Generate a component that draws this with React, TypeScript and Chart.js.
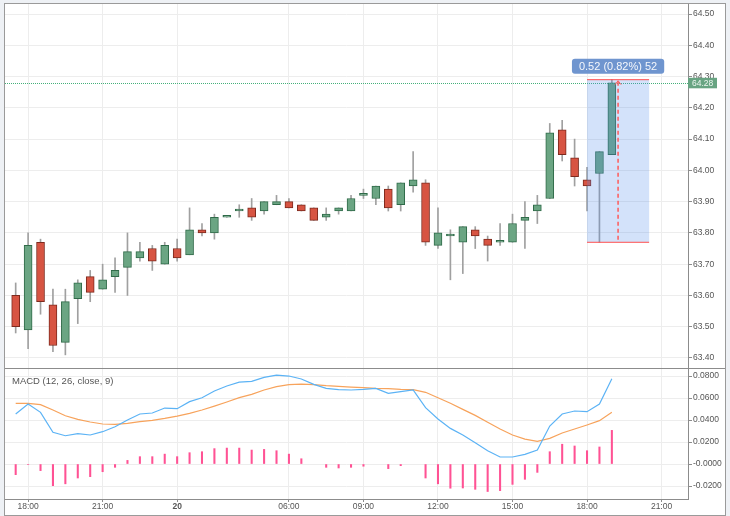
import { useEffect, useRef } from 'react';
import Chart from 'chart.js/auto';

// 30 minute candles, index 0 = 17:30
const opens = [63.60, 63.49, 63.77, 63.57, 63.45, 63.59, 63.66, 63.62, 63.66, 63.69, 63.72, 63.75, 63.70, 63.75, 63.73, 63.81, 63.80, 63.85, 63.87, 63.88, 63.87, 63.89, 63.90, 63.89, 63.88, 63.85, 63.87, 63.87, 63.92, 63.91, 63.94, 63.89, 63.95, 63.96, 63.76, 63.79, 63.77, 63.81, 63.78, 63.77, 63.77, 63.84, 63.87, 63.91, 64.13, 64.04, 63.97, 63.99, 64.05];
const highs = [63.64, 63.80, 63.78, 63.62, 63.62, 63.65, 63.68, 63.70, 63.72, 63.80, 63.77, 63.76, 63.77, 63.78, 63.88, 63.83, 63.86, 63.85, 63.89, 63.91, 63.90, 63.92, 63.91, 63.89, 63.88, 63.88, 63.88, 63.92, 63.94, 63.95, 63.95, 63.96, 64.06, 63.97, 63.88, 63.81, 63.82, 63.82, 63.79, 63.83, 63.86, 63.90, 63.92, 64.15, 64.16, 64.10, 64.01, 64.06, 64.29];
const lows = [63.48, 63.43, 63.54, 63.42, 63.41, 63.51, 63.58, 63.62, 63.61, 63.60, 63.71, 63.68, 63.70, 63.71, 63.73, 63.79, 63.78, 63.85, 63.85, 63.84, 63.86, 63.89, 63.88, 63.87, 63.84, 63.84, 63.86, 63.87, 63.91, 63.89, 63.87, 63.87, 63.93, 63.76, 63.75, 63.65, 63.67, 63.75, 63.71, 63.76, 63.77, 63.75, 63.83, 63.91, 64.03, 63.95, 63.87, 63.77, 64.05];
const closes = [63.50, 63.76, 63.58, 63.44, 63.58, 63.64, 63.61, 63.65, 63.68, 63.74, 63.74, 63.71, 63.76, 63.72, 63.81, 63.80, 63.85, 63.85, 63.87, 63.85, 63.90, 63.90, 63.88, 63.87, 63.84, 63.86, 63.88, 63.91, 63.92, 63.95, 63.88, 63.96, 63.97, 63.77, 63.80, 63.79, 63.82, 63.79, 63.76, 63.77, 63.83, 63.85, 63.89, 64.12, 64.05, 63.98, 63.95, 64.06, 64.28];

const macdLine = [0.0455, 0.0545, 0.0470, 0.0288, 0.0257, 0.0276, 0.0264, 0.0294, 0.0339, 0.0400, 0.0455, 0.0464, 0.0509, 0.0503, 0.0567, 0.0603, 0.0664, 0.0709, 0.0745, 0.0752, 0.0788, 0.0809, 0.0800, 0.0773, 0.0724, 0.0688, 0.0676, 0.0673, 0.0679, 0.0688, 0.0642, 0.0658, 0.0673, 0.0512, 0.0409, 0.0324, 0.0264, 0.0194, 0.0121, 0.0064, 0.0064, 0.0088, 0.0127, 0.0345, 0.0455, 0.0482, 0.0476, 0.0545, 0.0776];
const signalLine = [0.0552, 0.0552, 0.0540, 0.0491, 0.0439, 0.0406, 0.0382, 0.0364, 0.0361, 0.0370, 0.0385, 0.0397, 0.0415, 0.0436, 0.0461, 0.0491, 0.0527, 0.0564, 0.0603, 0.0633, 0.0673, 0.0703, 0.0721, 0.0727, 0.0721, 0.0712, 0.0706, 0.0700, 0.0694, 0.0688, 0.0685, 0.0679, 0.0676, 0.0652, 0.0603, 0.0552, 0.0497, 0.0442, 0.0379, 0.0318, 0.0264, 0.0227, 0.0206, 0.0233, 0.0282, 0.0318, 0.0355, 0.0394, 0.0470];
const histogram = [-0.0097, -0.0005, -0.0060, -0.0197, -0.0180, -0.0127, -0.0115, -0.0070, -0.0030, 0.0033, 0.0067, 0.0067, 0.0090, 0.0067, 0.0103, 0.0112, 0.0140, 0.0145, 0.0145, 0.0127, 0.0133, 0.0121, 0.0090, 0.0048, 0, -0.0030, -0.0036, -0.0030, -0.0020, 0, -0.0042, -0.0015, 0, -0.0127, -0.0180, -0.0220, -0.0218, -0.0230, -0.0250, -0.0242, -0.0185, -0.0139, -0.0076, 0.0112, 0.0180, 0.0164, 0.0121, 0.0155, 0.0306];

const tickIdx = [1, 7, 13, 22, 28, 34, 40, 46, 52];
const tickText = ['18:00', '21:00', '20', '06:00', '09:00', '12:00', '15:00', '18:00', '21:00'];
const priceTicks = [63.4, 63.5, 63.6, 63.7, 63.8, 63.9, 64.0, 64.1, 64.2, 64.3, 64.4, 64.5];
const macdTicks = [-0.02, 0, 0.02, 0.04, 0.06, 0.08];

// price range measurement tool
const measureStart = 46;
const measureEnd = 51;
const measureMid = 48.5;
const measureLow = 63.77;
const measureHigh = 64.29;
const measureLabel = '0.52 (0.82%) 52';

const X_MIN = -0.86;
const X_MAX = 54.13;
const FONT = '"Liberation Sans", Arial, sans-serif';
const GRID = '#ededed';
const AXIS = '#8c8c8c';

const xScale = (labels: boolean) => ({
  type: 'linear',
  min: X_MIN,
  max: X_MAX,
  bounds: 'data',
  offset: false,
  afterBuildTicks: (s: any) => {
    s.ticks = tickIdx.map((v) => ({ value: v }));
  },
  grid: { color: GRID, offset: false, drawTicks: labels, tickLength: 3, tickColor: AXIS },
  border: { display: labels, color: AXIS },
  ticks: {
    display: labels,
    autoSkip: false,
    maxRotation: 0,
    padding: 0,
    color: '#555',
    font: (ctx: any) => ({ size: 8.5, family: FONT, weight: ctx.tick && ctx.tick.value === 13 ? 'bold' : 'normal' }),
    callback: (_v: any, i: number) => tickText[i],
  },
  afterFit: (s: any) => {
    s.height = labels ? 16 : 0;
    s.paddingLeft = 0;
    s.paddingRight = 0;
  },
});

const yScale = (min: number, max: number, values: number[], fmt: (v: number) => string) => ({
  type: 'linear',
  position: 'right',
  min,
  max,
  bounds: 'data',
  afterBuildTicks: (s: any) => {
    s.ticks = values.map((v) => ({ value: v }));
  },
  grid: { color: GRID, tickLength: 4, tickColor: AXIS },
  border: { color: AXIS },
  ticks: {
    autoSkip: false,
    padding: 1,
    color: '#555',
    font: { size: 8.5, family: FONT },
    callback: (v: any) => fmt(Number(v)),
  },
  afterFit: (s: any) => {
    s.width = 37;
    s.paddingTop = 0;
    s.paddingBottom = 0;
  },
});

const mainOverlay = {
  id: 'mainOverlay',
  afterDatasetsDraw(chart: any) {
    const { ctx, chartArea, scales: { x, y } } = chart;
    const last = closes[closes.length - 1];
    const py = Math.round(y.getPixelForValue(last)) + 0.5;
    ctx.save();
    ctx.strokeStyle = '#45b07a';
    ctx.lineWidth = 1;
    ctx.setLineDash([1, 1]);
    ctx.beginPath();
    ctx.moveTo(chartArea.left, py);
    ctx.lineTo(chartArea.right, py);
    ctx.stroke();

    const x0 = x.getPixelForValue(measureStart);
    const x1 = x.getPixelForValue(measureEnd);
    const yt = y.getPixelForValue(measureHigh);
    const yb = y.getPixelForValue(measureLow);
    ctx.fillStyle = 'rgba(80, 140, 235, 0.25)';
    ctx.fillRect(x0, yt, x1 - x0, yb - yt);
    ctx.setLineDash([]);
    ctx.strokeStyle = '#ff4f4f';
    ctx.beginPath();
    ctx.moveTo(x0, yt);
    ctx.lineTo(x1, yt);
    ctx.moveTo(x0, yb);
    ctx.lineTo(x1, yb);
    ctx.stroke();

    const xm = x.getPixelForValue(measureMid);
    ctx.lineWidth = 1.5;
    ctx.strokeStyle = '#ff5a5a';
    ctx.setLineDash([4, 3]);
    ctx.beginPath();
    ctx.moveTo(xm, yt + 2);
    ctx.lineTo(xm, yb);
    ctx.stroke();
    ctx.setLineDash([]);
    ctx.lineWidth = 1;
    ctx.beginPath();
    ctx.moveTo(xm - 3, yt + 5);
    ctx.lineTo(xm, yt + 1);
    ctx.lineTo(xm + 3, yt + 5);
    ctx.stroke();

    ctx.font = `11px ${FONT}`;
    const w = ctx.measureText(measureLabel).width + 14;
    const bx = xm - w / 2;
    const by = yt - 21;
    ctx.fillStyle = '#6f95cf';
    ctx.beginPath();
    ctx.roundRect(bx, by, w, 15, 3);
    ctx.fill();
    ctx.fillStyle = '#f4f7fc';
    ctx.textAlign = 'center';
    ctx.textBaseline = 'middle';
    ctx.fillText(measureLabel, xm, by + 8);
    ctx.restore();
  },
  afterDraw(chart: any) {
    const { ctx, chartArea, scales: { y } } = chart;
    const last = closes[closes.length - 1];
    const py = y.getPixelForValue(last);
    ctx.save();
    ctx.fillStyle = '#68a482';
    ctx.fillRect(chartArea.right, py - 5, 29, 10.5);
    ctx.fillStyle = '#eef7f1';
    ctx.font = `8.5px ${FONT}`;
    ctx.textBaseline = 'middle';
    ctx.fillText(last.toFixed(2), chartArea.right + 4, py + 0.5);
    ctx.restore();
  },
};

const macdOverlay = {
  id: 'macdOverlay',
  afterDraw(chart: any) {
    const { ctx } = chart;
    ctx.save();
    ctx.strokeStyle = AXIS;
    ctx.lineWidth = 1;
    ctx.beginPath();
    ctx.moveTo(0, 0.5);
    ctx.lineTo(chart.width, 0.5);
    ctx.stroke();
    ctx.fillStyle = '#555';
    ctx.font = `9.5px ${FONT}`;
    ctx.textBaseline = 'middle';
    ctx.fillText('MACD (12, 26, close, 9)', 7, 13);
    ctx.restore();
  },
};

export default function App() {
  const mainRef = useRef<HTMLCanvasElement | null>(null);
  const macdRef = useRef<HTMLCanvasElement | null>(null);

  useEffect(() => {
    if (mainRef.current === null || macdRef.current === null) return () => {};
    document.body.style.margin = '0';

    const up = closes.map((c, i) => c >= opens[i]);
    const mainChart = new Chart(mainRef.current, {
      type: 'bar',
      data: {
        datasets: [
          {
            data: opens.map((o, i) => ({ x: i, y: [o, closes[i]] })),
            backgroundColor: up.map((u) => (u ? '#6ba583' : '#d75442')),
            borderColor: up.map((u) => (u ? '#2f6a48' : '#7d2a1e')),
            borderWidth: 1,
            borderSkipped: false,
            barThickness: 8,
            minBarLength: 2,
            grouped: false,
          } as any,
          {
            data: lows.map((l, i) => ({ x: i, y: [l, highs[i]] })),
            backgroundColor: '#a0a0a0',
            borderWidth: 0,
            barThickness: 1,
            grouped: false,
          } as any,
        ],
      },
      options: {
        animation: false,
        responsive: false,
        maintainAspectRatio: false,
        layout: { padding: 0 },
        plugins: { legend: { display: false }, tooltip: { enabled: false } },
        scales: {
          x: xScale(false) as any,
          y: yScale(63.368, 64.532, priceTicks, (v) => v.toFixed(2)) as any,
        },
      },
      plugins: [mainOverlay],
    });

    const macdChart = new Chart(macdRef.current, {
      type: 'bar',
      data: {
        datasets: [
          {
            type: 'line',
            data: macdLine.map((v, i) => ({ x: i, y: v })),
            borderColor: '#5cb3f5',
            borderWidth: 1.2,
            pointRadius: 0,
            tension: 0,
          } as any,
          {
            type: 'line',
            data: signalLine.map((v, i) => ({ x: i, y: v })),
            borderColor: '#f7a35c',
            borderWidth: 1.2,
            pointRadius: 0,
            tension: 0,
          } as any,
          {
            // flat bars are left out so no stray dots appear on the zero line
            data: histogram.map((v, i) => ({ x: i, y: v === 0 ? null : v })),
            backgroundColor: '#ff5294',
            borderWidth: 0,
            barThickness: 1.4,
            grouped: false,
          } as any,
        ],
      },
      options: {
        animation: false,
        responsive: false,
        maintainAspectRatio: false,
        layout: { padding: 0 },
        plugins: { legend: { display: false }, tooltip: { enabled: false } },
        scales: {
          x: xScale(true) as any,
          y: yScale(-0.0318, 0.0873, macdTicks, (v) => (Math.abs(v) < 1e-9 ? '-0.0000' : v.toFixed(4))) as any,
        },
      },
      plugins: [macdOverlay],
    });

    return () => {
      mainChart.destroy();
      macdChart.destroy();
    };
  }, []);

  return (
    <div style={{ position: 'relative', width: 730, height: 516, background: '#eef1f5', overflow: 'hidden' }}>
      <div
        style={{
          position: 'absolute',
          left: 4,
          top: 3,
          width: 722,
          height: 513,
          boxSizing: 'border-box',
          border: '1px solid #9a9a9a',
          background: '#fff',
        }}
      />
      <canvas ref={mainRef} width={720} height={364} style={{ position: 'absolute', left: 5, top: 4 }} />
      <canvas ref={macdRef} width={720} height={147} style={{ position: 'absolute', left: 5, top: 368 }} />
    </div>
  );
}
